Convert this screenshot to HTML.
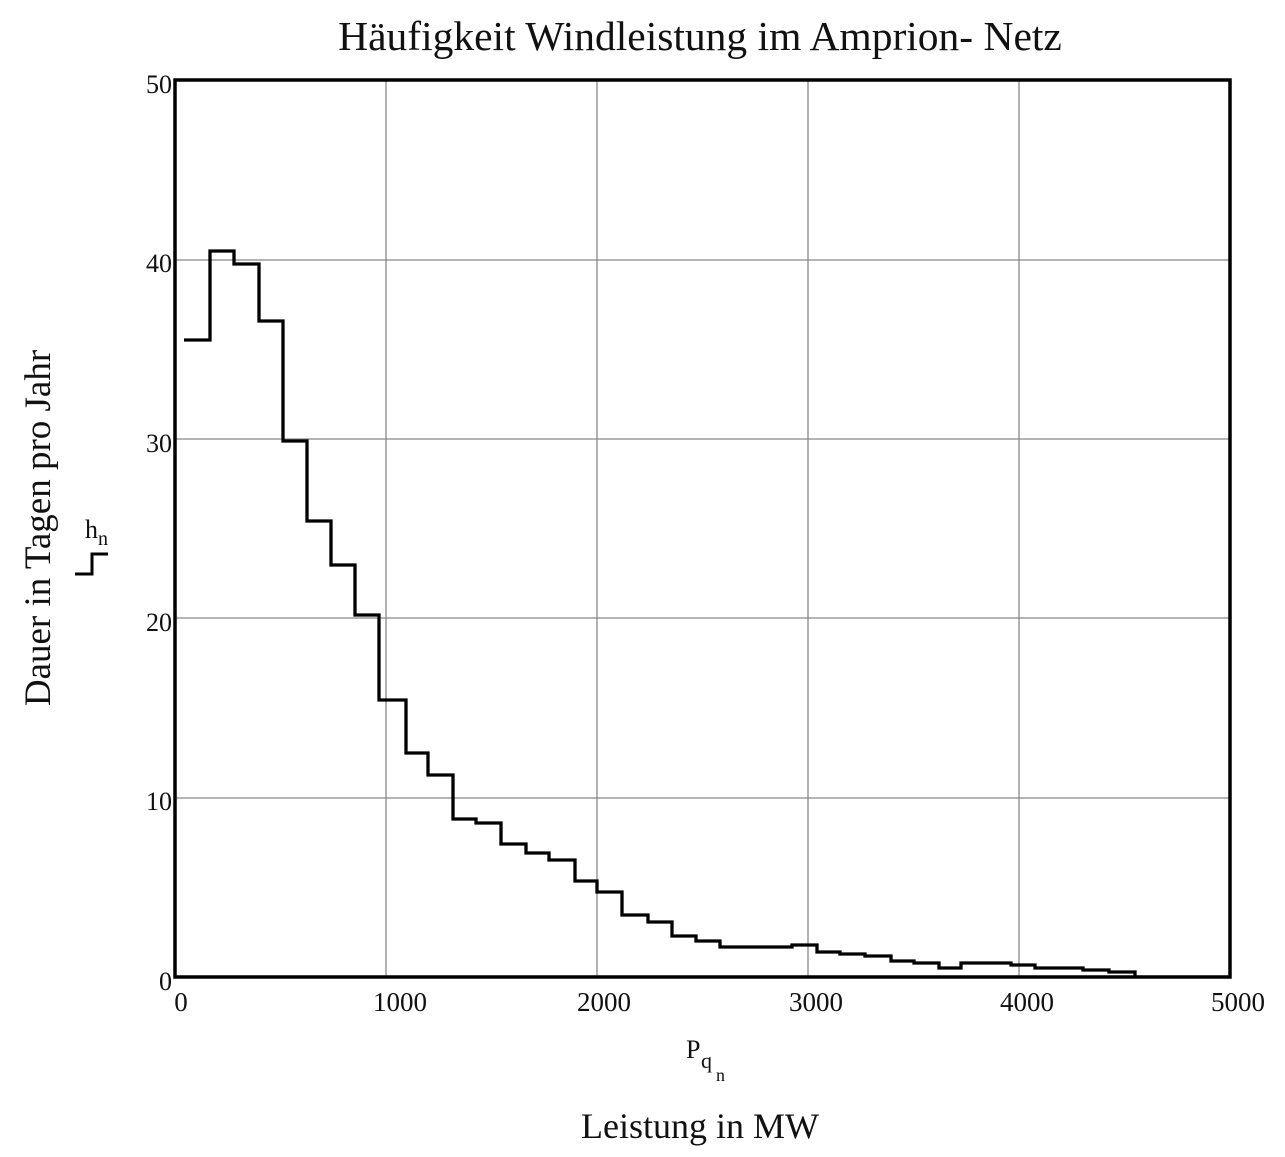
<!DOCTYPE html>
<html><head><meta charset="utf-8"><style>
body{margin:0;background:#fff;}
svg text{font-family:"Liberation Serif",serif;fill:#111;}
</style></head><body>
<svg width="1285" height="1152" viewBox="0 0 1285 1152" xmlns="http://www.w3.org/2000/svg">
<rect width="1285" height="1152" fill="#fff"/>
<text x="700" y="50" font-size="41.5" text-anchor="middle">Häufigkeit Windleistung im Amprion- Netz</text>
<g stroke="#888" stroke-width="1.3">
<line x1="386" y1="80" x2="386" y2="977"/><line x1="597" y1="80" x2="597" y2="977"/>
<line x1="808" y1="80" x2="808" y2="977"/><line x1="1019" y1="80" x2="1019" y2="977"/>
<line x1="175" y1="798" x2="1230" y2="798"/><line x1="175" y1="618" x2="1230" y2="618"/>
<line x1="175" y1="439" x2="1230" y2="439"/><line x1="175" y1="260" x2="1230" y2="260"/>
</g>
<rect x="175" y="80" width="1055" height="897" fill="none" stroke="#000" stroke-width="3.5"/>
<path fill="none" stroke="#000" stroke-width="3.3" d="M184 340 H210 V251 H234 V264 H259 V321 H283 V441 H307 V521 H331 V565 H355 V615 H379 V700 H406 V753 H428 V775 H453 V819 H476 V823 H501 V844 H526 V853 H549 V860 H575 V881 H597 V892 H622 V915 H648 V922 H672 V936 H696 V941 H720 V947 H792 V945 H817 V952 H840 V954 H865 V956 H891 V961 H914 V963 H939 V968 H961 V963 H1011 V965 H1035 V968 H1083 V970 H1109 V972 H1135 V977"/>
<g font-size="27" text-anchor="middle">
<text x="181" y="1011">0</text><text x="400" y="1011">1000</text><text x="604" y="1011">2000</text>
<text x="816" y="1011">3000</text><text x="1027" y="1011">4000</text><text x="1238" y="1011">5000</text>
</g>
<g font-size="26" text-anchor="end">
<text x="172" y="990">0</text><text x="172" y="810">10</text><text x="172" y="631">20</text>
<text x="172" y="452">30</text><text x="172" y="272">40</text><text x="172" y="93">50</text>
</g>
<text x="686" y="1058" font-size="26">P</text><text x="701" y="1068" font-size="22">q</text><text x="716" y="1081" font-size="18">n</text>
<text x="700" y="1138" font-size="36" text-anchor="middle">Leistung in MW</text>
<text transform="translate(50,528) rotate(-90)" font-size="37" text-anchor="middle">Dauer in Tagen pro Jahr</text>
<text x="85" y="538" font-size="26">h</text><text x="98" y="545" font-size="20">n</text>
<path d="M75 574 H92 V554 H108" fill="none" stroke="#000" stroke-width="3"/>
</svg>
</body></html>
